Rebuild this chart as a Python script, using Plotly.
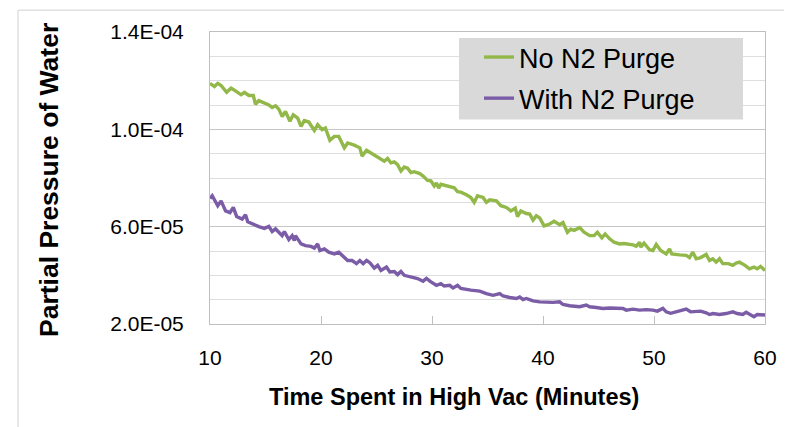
import numpy as np
import plotly.graph_objects as go

# ---- data (minutes, partial pressure in units of 1E-05) ----
t_no_purge = [10.0, 10.4, 10.7, 11.0, 11.5, 11.9, 12.3, 12.8, 13.1, 13.5, 13.9, 14.1, 14.4, 15.0, 15.3,
              15.6, 15.9, 16.2, 16.5, 16.8, 17.2, 17.5, 17.9, 18.2, 18.5, 18.9, 19.4, 19.7, 20.1, 20.4,
              20.8, 21.2, 21.6, 22.1, 22.4, 23.0, 23.5, 23.7, 24.1, 24.5, 25.0, 25.4, 25.7, 26.0, 26.3,
              26.6, 26.9, 27.2, 27.5, 27.8, 28.1, 28.4, 28.9, 29.2, 29.6, 29.9, 30.2, 30.4, 30.6, 30.8,
              31.3, 31.6, 32.0, 32.3, 32.6, 33.1, 33.5, 33.8, 34.1, 34.6, 34.9, 35.2, 35.8, 36.2, 36.7,
              37.1, 37.5, 37.7, 38.0, 38.5, 38.8, 39.1, 39.4, 39.7, 40.1, 40.6, 41.0, 41.5, 41.8, 42.2,
              42.5, 42.8, 43.3, 43.7, 44.2, 44.6, 44.9, 45.3, 45.6, 46.0, 46.4, 46.9, 47.3, 48.1, 48.4,
              48.7, 48.8, 49.1, 49.6, 49.9, 50.2, 50.6, 51.1, 51.4, 51.6, 52.3, 52.9, 53.2, 53.5, 53.8,
              54.2, 54.7, 55.0, 55.3, 55.6, 55.9, 56.2, 56.7, 57.1, 57.4, 57.7, 58.2, 58.6, 59.0, 59.3,
              59.6, 60.0]
p_no_purge = [11.89, 11.76, 11.89, 11.80, 11.52, 11.69, 11.58, 11.42, 11.52, 11.39, 11.39, 11.03, 11.18, 11.07, 11.00,
              10.90, 10.97, 10.83, 10.53, 10.73, 10.33, 10.60, 10.46, 10.12, 10.36, 10.30, 9.95, 10.19, 9.99, 10.05,
              9.55, 9.71, 9.71, 9.24, 9.44, 9.35, 9.24, 8.90, 9.14, 9.03, 8.90, 8.80, 8.69, 8.80, 8.62,
              8.66, 8.55, 8.29, 8.45, 8.40, 8.22, 8.26, 8.18, 8.08, 7.90, 7.88, 7.67, 7.80, 7.58, 7.74,
              7.67, 7.62, 7.60, 7.44, 7.42, 7.31, 7.20, 7.00, 7.27, 7.20, 7.00, 7.10, 7.06, 6.86, 6.79,
              6.65, 6.76, 6.41, 6.65, 6.54, 6.52, 6.27, 6.45, 6.36, 6.03, 6.11, 6.22, 6.08, 6.17, 5.77,
              5.90, 5.85, 5.96, 5.77, 5.63, 5.63, 5.77, 5.54, 5.70, 5.50, 5.36, 5.29, 5.31, 5.25, 5.20,
              5.36, 5.16, 5.32, 5.05, 5.02, 5.27, 5.02, 4.88, 5.09, 4.88, 4.84, 4.82, 4.73, 4.95, 4.68,
              4.73, 4.86, 4.61, 4.68, 4.54, 4.68, 4.48, 4.48, 4.41, 4.50, 4.54, 4.41, 4.27, 4.34, 4.27,
              4.37, 4.20]

t_with_purge = [10.0, 10.2, 10.7, 11.0, 11.4, 11.8, 12.1, 12.4, 12.9, 13.2, 13.4, 13.8, 14.4, 14.9, 15.3,
                15.6, 15.9, 16.2, 16.5, 16.7, 17.1, 17.4, 17.6, 17.7, 18.2, 18.6, 19.1, 19.4, 19.7, 19.9,
                20.3, 20.7, 21.2, 21.6, 22.1, 22.4, 22.8, 23.2, 23.5, 23.8, 24.1, 24.4, 24.8, 25.1, 25.4,
                25.9, 26.2, 26.6, 26.9, 27.2, 27.5, 28.1, 28.7, 29.2, 29.5, 29.9, 30.4, 30.8, 31.1, 31.6,
                31.9, 32.3, 32.6, 33.5, 34.3, 34.9, 35.5, 36.1, 36.4, 37.0, 37.6, 37.9, 38.2, 38.5, 39.1,
                39.7, 40.3, 40.9, 41.5, 41.8, 42.4, 43.3, 43.9, 44.2, 44.8, 45.4, 46.0, 46.6, 47.2, 47.5,
                48.1, 48.7, 49.3, 49.9, 50.3, 50.8, 51.1, 51.5, 52.0, 52.4, 52.9, 53.3, 53.8, 54.2, 54.7,
                55.0, 55.3, 55.9, 56.5, 57.1, 57.5, 58.0, 58.3, 58.7, 59.0, 59.3, 60.0]
p_with_purge = [7.16, 7.27, 6.86, 7.06, 6.65, 6.58, 6.79, 6.42, 6.31, 6.49, 6.20, 6.11, 6.00, 5.93, 6.01,
                5.80, 5.91, 5.77, 5.63, 5.80, 5.47, 5.63, 5.43, 5.63, 5.29, 5.22, 5.19, 5.12, 5.29, 5.02,
                5.09, 4.95, 4.88, 4.95, 4.75, 4.61, 4.61, 4.48, 4.61, 4.48, 4.61, 4.52, 4.30, 4.41, 4.20,
                4.34, 4.14, 4.16, 4.03, 4.16, 4.00, 3.93, 3.87, 3.76, 3.87, 3.73, 3.59, 3.66, 3.56, 3.59,
                3.48, 3.59, 3.46, 3.39, 3.35, 3.25, 3.18, 3.25, 3.15, 3.09, 3.05, 3.11, 3.00, 3.05, 2.95,
                2.91, 2.89, 2.89, 2.91, 2.80, 2.75, 2.71, 2.78, 2.71, 2.68, 2.64, 2.66, 2.64, 2.64, 2.57,
                2.61, 2.57, 2.59, 2.57, 2.53, 2.64, 2.50, 2.44, 2.50, 2.53, 2.61, 2.50, 2.50, 2.53, 2.46,
                2.39, 2.43, 2.39, 2.43, 2.50, 2.43, 2.39, 2.48, 2.39, 2.30, 2.39, 2.37]

x_ticks = [10, 20, 30, 40, 50, 60]
y_tick_vals = [2.0e-5, 6.0e-5, 1.0e-4, 1.4e-4]
y_tick_text = ["2.0E-05", "6.0E-05", "1.0E-04", "1.4E-04"]
series_names = ["No N2 Purge", "With N2 Purge"]
series_colors = ["#93b84a", "#7b5ca6"]

FONT = "Liberation Sans, Arial, sans-serif"

fig = go.Figure()
fig.add_trace(go.Scatter(x=t_no_purge, y=np.array(p_no_purge) * 1e-5, mode="lines",
                         name=series_names[0], legendgroup="a",
                         line=dict(color=series_colors[0], width=3.4)))
fig.add_trace(go.Scatter(x=t_with_purge, y=np.array(p_with_purge) * 1e-5, mode="lines",
                         name=series_names[1], legendgroup="b",
                         line=dict(color=series_colors[1], width=3.4)))

# page has an 8px body margin: figure coordinates are page coordinates minus OFF
OFF = 8
W, H = 784, 419
L, R, T, B = 202, 27, 22, 103
pw, ph = W - L - R, H - T - B


def px(xpage):
    return (xpage - OFF - L) / pw


def py(ypage):
    return (H - B - (ypage - OFF)) / ph


fig.update_layout(
    width=W, height=H,
    margin=dict(l=L, r=R, t=T, b=B, pad=0),
    paper_bgcolor="white", plot_bgcolor="white",
    font=dict(family=FONT, color="black"),
    showlegend=True,
    legend=dict(x=px(479), y=py(31), xanchor="left", yanchor="top",
                bgcolor="rgba(0,0,0,0)", borderwidth=0,
                font=dict(size=27, family=FONT, color="black"),
                tracegroupgap=3),
    xaxis=dict(range=[10, 60], tickvals=x_ticks, ticks="inside", ticklen=8,
               tickcolor="#bfbfbf", showline=True, linecolor="#bfbfbf", linewidth=1,
               mirror=True, showgrid=False, zeroline=False,
               tickfont=dict(size=21, family=FONT, color="black"),
               ticklabelstandoff=15),
    yaxis=dict(range=[2.0e-5, 1.4e-4], tickvals=y_tick_vals, ticktext=y_tick_text,
               ticks="", showline=True, linecolor="#bfbfbf", linewidth=1, mirror=True,
               showgrid=True, gridcolor="#c6c6c6", gridwidth=1, zeroline=False,
               minor=dict(tick0=2.0e-5, dtick=1.0e-5, showgrid=True, gridcolor="#dedede", ticks=""),
               tickfont=dict(size=21, family=FONT, color="black"),
               ticklabelstandoff=21),
    shapes=[
        dict(type="rect", xref="paper", yref="paper", x0=px(18), x1=px(820), y0=py(450), y1=py(8),
             line=dict(color="#d0d0d0", width=1), fillcolor="rgba(0,0,0,0)", layer="below"),
        dict(type="rect", xref="paper", yref="paper", x0=px(459), x1=px(743), y0=py(118), y1=py(36),
             line=dict(width=0), fillcolor="#d9d9d9", layer="above"),
    ],
    annotations=[
        dict(text="<b>Partial Pressure of Water</b>", xref="paper", yref="paper",
             x=px(49), y=py(179), xanchor="center", yanchor="middle", textangle=-90,
             showarrow=False, font=dict(size=26.5, family=FONT, color="black")),
        dict(text="<b>Time Spent in High Vac (Minutes)</b>", xref="paper", yref="paper",
             x=px(454), y=py(398), xanchor="center", yanchor="middle",
             showarrow=False, font=dict(size=23.5, family=FONT, color="black")),
    ],
)

fig.write_html("out.html")
